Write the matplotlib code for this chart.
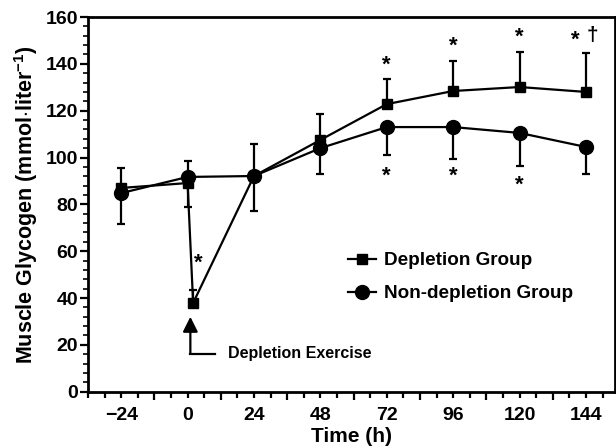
import numpy as np
import matplotlib
matplotlib.use("Agg")
import matplotlib.pyplot as plt
from matplotlib.lines import Line2D

plt.rcParams['font.family'] = ['Liberation Sans', 'DejaVu Sans']
plt.rcParams['font.weight'] = 'bold'
plt.rcParams['mathtext.fontset'] = 'custom'
plt.rcParams['mathtext.rm'] = 'Liberation Sans:bold'
plt.rcParams['mathtext.bf'] = 'Liberation Sans:bold'
plt.rcParams['mathtext.default'] = 'bf'

# Data
dep_time = [-24, 0, 2, 24, 48, 72, 96, 120, 144]
dep_vals = [87.0, 89.1, 37.9, 92.1, 107.5, 122.8, 128.4, 130.1, 128.0]
dep_err_up = [8.5, 0, 5.5, 13.7, 11.1, 10.7, 12.8, 14.9, 16.6]
dep_err_dn = [0, 10.2, 0, 0, 0, 0, 0, 0, 0]

non_time = [-24, 0, 24, 48, 72, 96, 120, 144]
non_vals = [84.8, 91.7, 92.1, 104.0, 113.0, 113.0, 110.5, 104.5]
non_err_up = [0, 6.8, 0, 0, 0, 0, 0, 0]
non_err_dn = [13.2, 0, 14.9, 11.1, 11.9, 13.6, 14.1, 11.6]

xtick_pos = [-24, 0, 24, 48, 72, 96, 120, 144]

# significance markers (x, y, text)
sig_x = [4, 72, 96, 120, 140.3, 72, 96, 120]
sig_y = [56.5, 140.7, 149.0, 152.7, 151.7, 93.7, 93.7, 89.8]
sig_t = ['*', '*', '*', '*', '*', '*', '*', '*']

fig = plt.figure(figsize=(6.16, 4.48), dpi=100)
ax = fig.add_axes([88/616, 1 - 391.7/448, (615 - 88)/616, (391.7 - 17)/448])

lw = 1.6
ax.errorbar(dep_time, dep_vals, yerr=[dep_err_dn, dep_err_up], fmt='none',
            ecolor='black', elinewidth=lw, capsize=3, capthick=lw, zorder=2)
ax.errorbar(non_time, non_vals, yerr=[non_err_dn, non_err_up], fmt='none',
            ecolor='black', elinewidth=lw, capsize=3, capthick=lw, zorder=2)
ax.plot(dep_time, dep_vals, color='black', lw=lw, marker='s', markersize=7.5,
        zorder=3)
ax.plot(non_time, non_vals, color='black', lw=lw, marker='o', markersize=10,
        zorder=3)

for x, y, t in zip(sig_x, sig_y, sig_t):
    ax.text(x, y - 1.5, t, ha='center', va='center', fontsize=16,
            fontweight='bold')
ax.text(146.5, 152.0, '\u2020', ha='center', va='center', fontsize=15,
        fontweight='bold')

# Depletion exercise arrow
ax.annotate('', xy=(1, 32.0), xytext=(1, 16.3),
            arrowprops=dict(arrowstyle='-|>,head_length=0.9,head_width=0.45',
                            color='black', lw=1.6, shrinkA=0, shrinkB=0))
ax.plot([1, 10], [16.3, 16.3], color='black', lw=1.6)
ax.text(14.5, 16.3, 'Depletion Exercise', ha='left', va='center',
        fontsize=11.5, fontweight='bold')

ax.set_xlim(-36, 154.5)
ax.set_ylim(0, 160)

# x ticks
ax.set_xticks(np.arange(-12, 155, 24))
ax.set_xticklabels([])
minor = np.arange(-36, 155, 6)
ax.set_xticks(minor, minor=True)
ax.set_xticklabels([('\u2212' + str(-int(m)) if m < 0 else str(int(m)))
                    if m in xtick_pos else '' for m in minor], minor=True)
ax.tick_params(axis='x', which='major', length=6, width=1.6, direction='out')
ax.tick_params(axis='x', which='minor', length=4, width=1.6, direction='out',
               labelsize=14, pad=7)

# y ticks
ax.set_yticks(np.arange(0, 161, 20))
ax.set_yticks(np.arange(0, 161, 4), minor=True)
ax.tick_params(axis='y', which='major', length=6, width=1.6, direction='out',
               labelsize=14, pad=1)
ax.tick_params(axis='y', which='minor', length=3.5, width=1.2, direction='out')
for lab in ax.get_xticklabels(minor=True) + ax.get_yticklabels():
    lab.set_fontweight('bold')

for s in ax.spines.values():
    s.set_linewidth(2)

ax.set_xlabel('Time (h)', fontsize=15, fontweight='bold', labelpad=2)
ax.set_ylabel(r'Muscle Glycogen (mmol$\cdot$liter$^{-1}$)', fontsize=15.5,
              fontweight='bold', labelpad=4)

handles = [Line2D([], [], color='black', lw=lw, marker='s', markersize=7.5),
           Line2D([], [], color='black', lw=lw, marker='o', markersize=10)]
leg = ax.legend(handles, ['Depletion Group', 'Non-depletion Group'],
                loc='upper left', bbox_to_anchor=(348/616, 1 - 252/448),
                bbox_transform=fig.transFigure, frameon=False,
                prop={'size': 13.6, 'weight': 'bold'}, handlelength=1.5,
                handletextpad=0.4, borderpad=0, borderaxespad=0,
                labelspacing=0.85)

fig.savefig('out.png', dpi=100)
